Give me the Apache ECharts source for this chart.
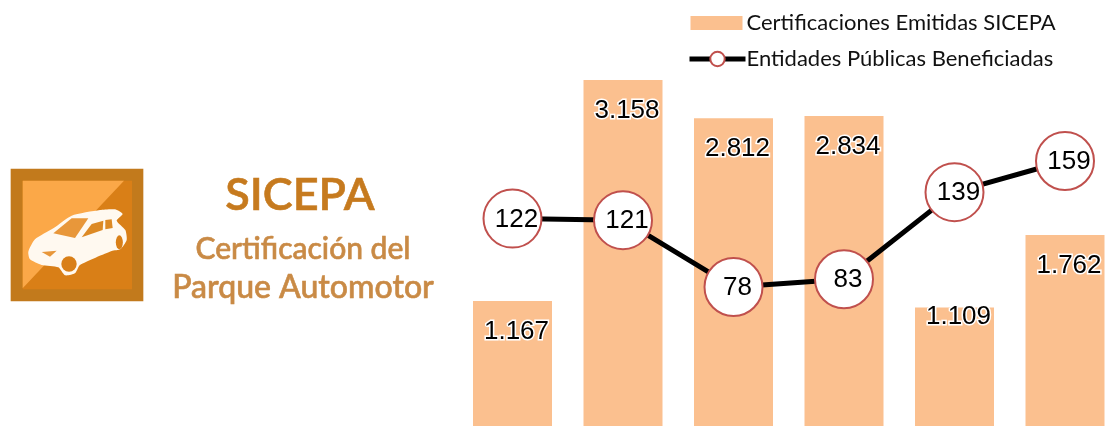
<!DOCTYPE html>
<html><head><meta charset="utf-8">
<style>html,body{margin:0;padding:0;background:#fff}#c{width:1105px;height:426px}</style>
<script src="https://cdn.jsdelivr.net/npm/echarts@6/dist/echarts.min.js"></script>
</head><body><div id="c"></div>
<script>
const categories = ['A1','A2','A3','A4','A5','A6'];
const certificaciones = [1167,3158,2812,2834,1109,1762];
const certLabels = ['1.167','3.158','2.812','2.834','1.109','1.762'];
const entidades = [122,121,78,83,139,159];
const names = ['Certificaciones Emitidas SICEPA','Entidades Públicas Beneficiadas'];
const chart = echarts.init(document.getElementById('c'),null,{renderer:'canvas'});
const halo = {color:'#000',fontFamily:'Liberation Sans',fontSize:26,textBorderColor:'#fff',textBorderWidth:3};
const ORANGE='#C67A1E';
const SOFT='#C98A45';
chart.setOption({
  animation:false,
  backgroundColor:'#fff',
  grid:{left:457.25,top:42,width:663,height:388.5,containLabel:false,outerBoundsMode:'none'},
  legend:{orient:'vertical',left:682,top:7,itemWidth:56,itemHeight:18,itemGap:14,
    textStyle:{fontFamily:'Lato',fontSize:22,color:'#111',padding:[0,0,0,-4]},
    data:[{name:names[0],icon:'path://M2 0L2 0ZM2 2H54V16H2ZM56 18L56 18Z'},{name:names[1],lineStyle:{width:5,color:'#000'}}]},
  xAxis:{type:'category',data:categories,show:false},
  yAxis:[{type:'value',min:0,max:3500,show:false},{type:'value',min:-14.2,max:235.5,show:false}],
  series:[
    {name:names[0],type:'bar',barWidth:79,itemStyle:{color:'#FBC08F'},z:2,
     data:certificaciones.map((v,i)=>({value:v,label:{offset:[4,i===4?-21.5:0]}})),
     label:{show:true,position:'insideTop',distance:17.5,...halo,
       formatter:p=>certLabels[p.dataIndex]}},
    {name:names[1],type:'line',yAxisIndex:1,data:entidades,z:3,
     lineStyle:{color:'#000',width:5},symbol:'circle',symbolSize:58,showAllSymbol:true,
     itemStyle:{color:'#fff',borderColor:'#C0504D',borderWidth:2},
     label:{show:true,position:'inside',offset:[4,1],...halo}}
  ],
  graphic:[{type:'group',x:0,y:150,scaleX:1/3,scaleY:1/3,silent:true,children:[
    {type:'rect',shape:{x:32,y:56,width:398,height:398},style:{fill:'#C27A1C'}},
    {type:'rect',shape:{x:68,y:92,width:328,height:326},style:{fill:'#D97F17'}},
    {type:'polygon',shape:{points:[[68,92],[372,92],[68,415]]},style:{fill:'#FBA848'}},
    {type:'polygon',shape:{smooth:0.2,points:[[85,305],[105,268],[160,235],[215,197],[300,180],[345,178],[368,192],[350,212],[376,240],[380,270],[362,297],[335,303],[240,345],[225,370],[195,376],[175,352],[125,345],[90,328]]},style:{fill:'#FFF9F0'}},
    {type:'polygon',shape:{points:[[160,250],[215,205],[265,205],[225,264]]},style:{fill:'#E8973A'}},
    {type:'polygon',shape:{points:[[245,262],[275,222],[310,212],[308,240]]},style:{fill:'#DD8A25'}},
    {type:'polygon',shape:{points:[[316,210],[335,208],[338,234],[316,238]]},style:{fill:'#DD8A25'}},
    {type:'circle',shape:{cx:207,cy:342,r:23},style:{fill:'#D97F17'}},
    {type:'circle',x:358,y:277,scaleX:0.5,shape:{cx:0,cy:0,r:21},style:{fill:'#D97F17'}},
    {type:'polygon',shape:{points:[[125,306],[170,302],[150,320]]},style:{fill:'#E8973A'}}
  ]},
  {type:'text',x:300,y:195,silent:true,style:{text:'SICEPA',fill:ORANGE,stroke:ORANGE,lineWidth:0.6,font:'600 45px Lato',align:'center',verticalAlign:'middle'}},
  {type:'text',x:303,y:249,silent:true,style:{text:'Certificación del',fill:SOFT,stroke:SOFT,lineWidth:0.6,font:'500 30px Lato',align:'center',verticalAlign:'middle'}},
  {type:'text',x:303,y:288,silent:true,style:{text:'Parque Automotor',fill:SOFT,stroke:SOFT,lineWidth:0.6,font:'500 32px Lato',align:'center',verticalAlign:'middle'}}
  ]
});
</script></body></html>
